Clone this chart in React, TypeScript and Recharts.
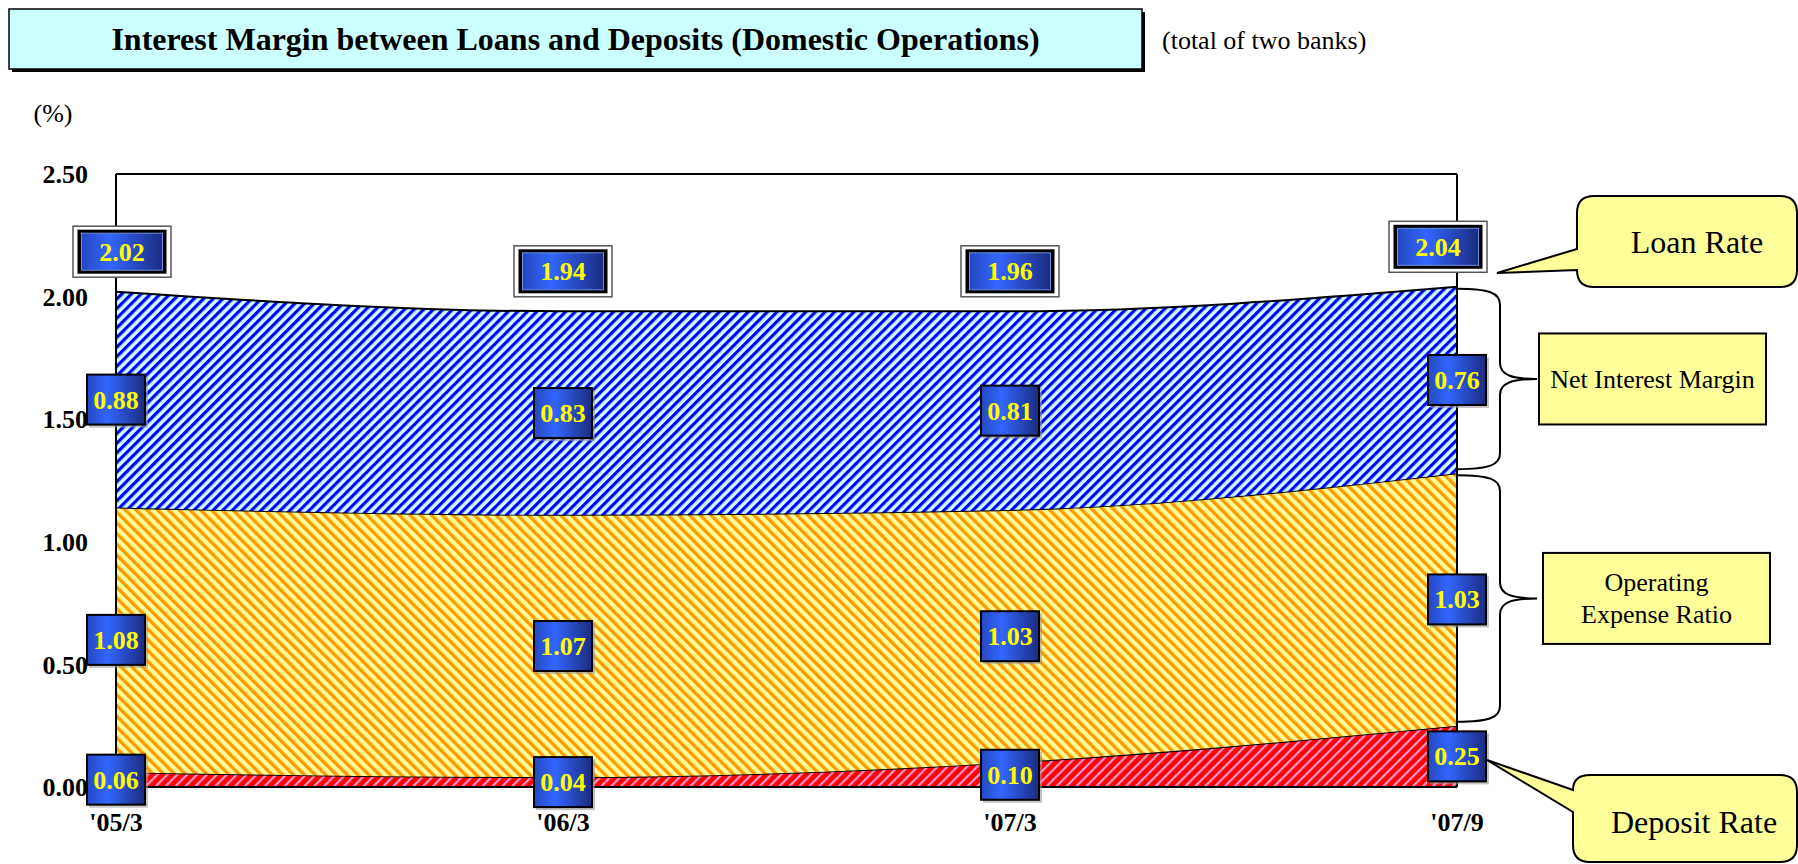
import React from 'react';
import {
  ComposedChart,
  Area,
  Line,
  XAxis,
  YAxis,
  ReferenceLine,
  ReferenceArea,
  LabelList,
} from 'recharts';

const periods = ["'05/3", "'06/3", "'07/3", "'07/9"];
const depositRate = [0.06, 0.04, 0.1, 0.25];
const expenseRatio = [1.08, 1.07, 1.03, 1.03];
const netMargin = [0.88, 0.83, 0.81, 0.76];
const loanRate = [2.02, 1.94, 1.96, 2.04];
const yTicks = [0, 0.5, 1, 1.5, 2, 2.5];

const SERIF = "'Liberation Serif', 'Times New Roman', serif";

const data = periods.map((p, i) => ({
  period: p,
  dep: depositRate[i],
  opex: expenseRatio[i],
  nim: netMargin[i],
  loan: loanRate[i],
  depMid: depositRate[i] / 2,
  opexMid: depositRate[i] + expenseRatio[i] / 2,
  nimMid: depositRate[i] + expenseRatio[i] + netMargin[i] / 2,
  top: depositRate[i] + expenseRatio[i] + netMargin[i],
}));

const last = periods.length - 1;

const ValueBox = (props: any) => {
  const x = props.x ?? props.viewBox?.x;
  const y = props.y ?? props.viewBox?.y;
  if (x == null || y == null) return null;
  return (
    <g>
      <rect x={x - 27} y={y - 23} width={59} height={51} fill="#999" opacity={0.6} />
      <rect x={x - 29} y={y - 25} width={58} height={50} fill="url(#boxGrad)" stroke="#000" strokeWidth={2} />
      <text
        x={x}
        y={y}
        dy={9}
        textAnchor="middle"
        fill="#FFFF00"
        fontFamily={SERIF}
        fontWeight="bold"
        fontSize={26}
      >
        {Number(props.value).toFixed(2)}
      </text>
    </g>
  );
};

const LoanBox = (props: any) => {
  let x = props.x ?? props.viewBox?.x;
  let y = props.y ?? props.viewBox?.y;
  if (x == null || y == null) return null;
  if (props.index === last) x -= 19;
  if (props.index === 0) x += 6;
  y -= 40;
  return (
    <g>
      <rect x={x - 49} y={y - 25.5} width={98} height={51} fill="#fff" stroke="#555" strokeWidth={1.5} />
      <rect x={x - 44.5} y={y - 22} width={89} height={44} fill="#000" />
      <rect x={x - 40.5} y={y - 18.5} width={81} height={37} fill="url(#boxGrad)" stroke="#6f8fe0" strokeWidth={1} />
      <text
        x={x}
        y={y}
        dy={9}
        textAnchor="middle"
        fill="#FFFF00"
        fontFamily={SERIF}
        fontWeight="bold"
        fontSize={26}
      >
        {Number(props.value).toFixed(2)}
      </text>
    </g>
  );
};

const Brace = (props: any) => {
  const { x, y, height, lines, boxGap } = props;
  if (x == null || y == null) return null;
  const top = y + 2;
  const bottom = y + height - 4;
  const mid = (top + bottom) / 2;
  const xv = x + 43;
  const tip = x + 80;
  const r = 16;
  const d = `M ${x} ${top} C ${x + 32} ${top} ${xv} ${top + 4} ${xv} ${top + r}
    L ${xv} ${mid - r} C ${xv} ${mid - 4} ${xv + 12} ${mid} ${tip} ${mid}
    C ${xv + 12} ${mid} ${xv} ${mid + 4} ${xv} ${mid + r}
    L ${xv} ${bottom - r} C ${xv} ${bottom - 4} ${x + 32} ${bottom} ${x} ${bottom}`;
  const bx = tip + boxGap;
  const bw = 227;
  const bh = 91;
  return (
    <g>
      <path d={d} fill="none" stroke="#000" strokeWidth={2} />
      <rect x={bx} y={mid - bh / 2} width={bw} height={bh} fill="#FFFF99" stroke="#000" strokeWidth={2} />
      {lines.map((t: string, i: number) => (
        <text
          key={t}
          x={bx + bw / 2}
          y={mid + (i - (lines.length - 1) / 2) * 32}
          dy={9}
          textAnchor="middle"
          fontFamily={SERIF}
          fontSize={26}
          fill="#000"
        >
          {t}
        </text>
      ))}
    </g>
  );
};

export default function App() {
  return (
    <div style={{ position: 'absolute', left: 0, top: 0, width: 1798, height: 864, background: '#fff' }}>
      <svg width={0} height={0} style={{ position: 'absolute' }}>
        <defs>
          <pattern id="blueStripe" patternUnits="userSpaceOnUse" width={6.8} height={6.8} patternTransform="rotate(45)">
            <rect width={6.8} height={6.8} fill="#CCFFFF" />
            <rect width={3.2} height={6.8} fill="#0000FF" />
          </pattern>
          <pattern id="orangeStripe" patternUnits="userSpaceOnUse" width={7.6} height={7.6} patternTransform="rotate(-45)">
            <rect width={7.6} height={7.6} fill="#FFFF99" />
            <rect width={3.4} height={7.6} fill="#FF9900" />
          </pattern>
          <pattern id="redStripe" patternUnits="userSpaceOnUse" width={7} height={7} patternTransform="rotate(45)">
            <rect width={7} height={7} fill="#FF0000" />
            <rect width={2.2} height={7} fill="#FF99CC" />
          </pattern>
          <linearGradient id="boxGrad" x1="0" y1="0" x2="1" y2="0">
            <stop offset="0%" stopColor="#2448c0" />
            <stop offset="35%" stopColor="#3366FF" />
            <stop offset="100%" stopColor="#1a2c80" />
          </linearGradient>
        </defs>
      </svg>

      <ComposedChart
        width={1798}
        height={864}
        data={data}
        margin={{ top: 174, right: 341, bottom: 0, left: 0 }}
      >
        <XAxis
          dataKey="period"
          scale="point"
          height={77}
          tickSize={0}
          tickMargin={26}
          axisLine={{ stroke: '#000', strokeWidth: 2 }}
          tick={{ fill: '#000', fontFamily: SERIF, fontWeight: 'bold', fontSize: 26 }}
        />
        <YAxis
          width={116}
          domain={[0, 2.5]}
          ticks={yTicks}
          tickSize={0}
          tickMargin={28}
          tickFormatter={(v: number) => v.toFixed(2)}
          axisLine={{ stroke: '#000', strokeWidth: 2 }}
          tick={{ fill: '#000', fontFamily: SERIF, fontWeight: 'bold', fontSize: 26 }}
        />
        <Area
          type="monotone"
          dataKey="dep"
          stackId="s"
          fill="url(#redStripe)"
          fillOpacity={1}
          stroke="#000"
          strokeWidth={2}
          isAnimationActive={false}
        />
        <Area
          type="monotone"
          dataKey="opex"
          stackId="s"
          fill="url(#orangeStripe)"
          fillOpacity={1}
          stroke="#000"
          strokeWidth={2}
          isAnimationActive={false}
        />
        <Area
          type="monotone"
          dataKey="nim"
          stackId="s"
          fill="url(#blueStripe)"
          fillOpacity={1}
          stroke="#000"
          strokeWidth={2}
          isAnimationActive={false}
        />
        <ReferenceLine y={2.5} stroke="#000" strokeWidth={2} />
        <ReferenceLine x={periods[last]} stroke="#000" strokeWidth={2} />
        <ReferenceArea
          x1={periods[last]}
          x2={periods[last]}
          y1={depositRate[last] + expenseRatio[last]}
          y2={depositRate[last] + expenseRatio[last] + netMargin[last]}
          shape={(p: any) => <Brace {...p} lines={['Net Interest Margin']} boxGap={2} />}
        />
        <ReferenceArea
          x1={periods[last]}
          x2={periods[last]}
          y1={depositRate[last]}
          y2={depositRate[last] + expenseRatio[last]}
          shape={(p: any) => <Brace {...p} lines={['Operating', 'Expense Ratio']} boxGap={6} />}
        />
        <Line dataKey="depMid" stroke="none" dot={false} activeDot={false} isAnimationActive={false}>
          <LabelList dataKey="dep" content={<ValueBox />} />
        </Line>
        <Line dataKey="opexMid" stroke="none" dot={false} activeDot={false} isAnimationActive={false}>
          <LabelList dataKey="opex" content={<ValueBox />} />
        </Line>
        <Line dataKey="nimMid" stroke="none" dot={false} activeDot={false} isAnimationActive={false}>
          <LabelList dataKey="nim" content={<ValueBox />} />
        </Line>
        <Line dataKey="top" stroke="none" dot={false} activeDot={false} isAnimationActive={false}>
          <LabelList dataKey="loan" content={<LoanBox />} />
        </Line>
      </ComposedChart>

      <svg
        width={1798}
        height={864}
        style={{ position: 'absolute', left: 0, top: 0, pointerEvents: 'none' }}
      >
        <rect x={12} y={12} width={1133} height={60} fill="#000" />
        <rect x={9} y={9} width={1133} height={60} fill="#CCFFFF" stroke="#000" strokeWidth={1.5} />
        <text
          x={575.5}
          y={39}
          dy={11}
          textAnchor="middle"
          fontFamily={SERIF}
          fontWeight="bold"
          fontSize={32}
          fill="#000"
        >
          Interest Margin between Loans and Deposits (Domestic Operations)
        </text>
        <text x={1162} y={40} dy={9} fontFamily={SERIF} fontSize={26} fill="#000">
          (total of two banks)
        </text>
        <text x={53} y={113} dy={9} textAnchor="middle" fontFamily={SERIF} fontSize={26} fill="#000">
          (%)
        </text>

        <path
          d="M 1577 249 L 1497 273 L 1577 270 Q 1577 287 1594 287 L 1780 287 Q 1797 287 1797 270 L 1797 213 Q 1797 196 1780 196 L 1594 196 Q 1577 196 1577 213 Z"
          fill="#FFFF99"
          stroke="#000"
          strokeWidth={2}
        />
        <text x={1697} y={242} dy={11} textAnchor="middle" fontFamily={SERIF} fontSize={32} fill="#000">
          Loan Rate
        </text>

        <path
          d="M 1573 790 L 1487 760 L 1573 812 L 1573 845 Q 1573 862 1590 862 L 1780 862 Q 1797 862 1797 845 L 1797 792 Q 1797 775 1780 775 L 1590 775 Q 1573 775 1573 790 Z"
          fill="#FFFF99"
          stroke="#000"
          strokeWidth={2}
        />
        <text x={1694} y={822} dy={11} textAnchor="middle" fontFamily={SERIF} fontSize={32} fill="#000">
          Deposit Rate
        </text>
      </svg>
    </div>
  );
}
